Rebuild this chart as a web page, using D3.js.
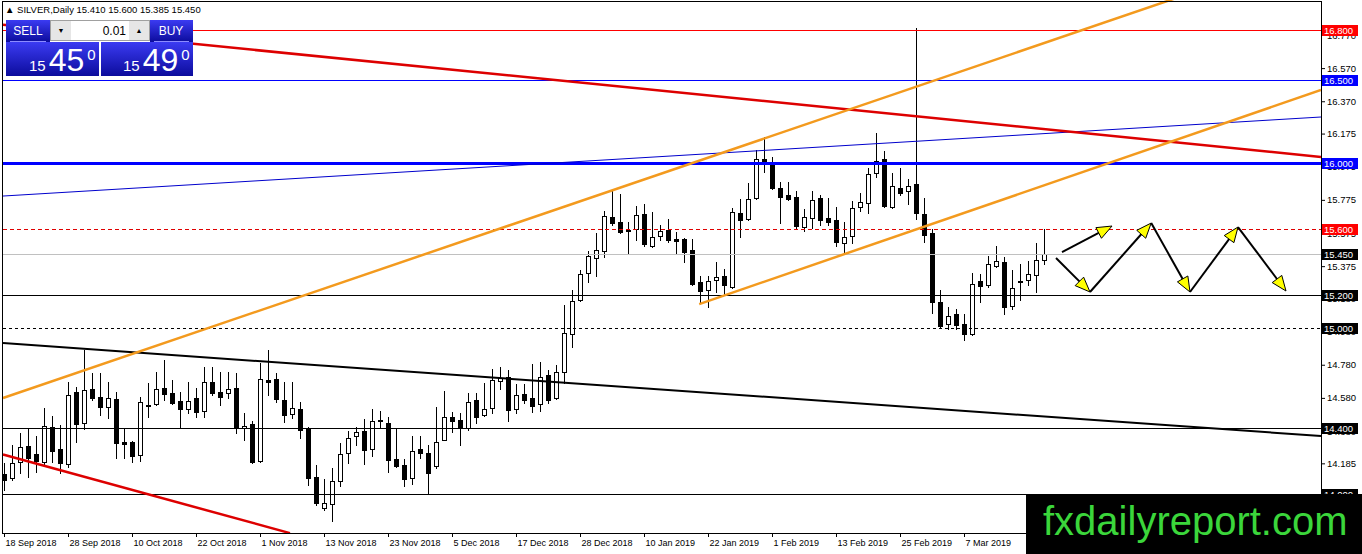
<!DOCTYPE html>
<html>
<head>
<meta charset="utf-8">
<script src="https://d3js.org/d3.v7.min.js"></script>
<style>
    body { margin: 0; background: #fff; }
    svg { display: block; font-family: "Liberation Sans", Arial, sans-serif; }
</style>
</head>
<body>
<svg id="chart" width="1362" height="554"></svg>
<script>
// daily silver candles, 18 Sep 2018 .. 25 Mar 2019 (weekdays only)
const opens = [
    14.121, 14.097, 14.193, 14.290, 14.241, 14.193, 14.404, 14.271, 14.181, 14.615,
    14.428, 14.633, 14.585, 14.525, 14.573, 14.314, 14.314, 14.235, 14.537, 14.543,
    14.639, 14.609, 14.561, 14.513, 14.579, 14.501, 14.676, 14.615, 14.609, 14.639,
    14.398, 14.422, 14.199, 14.688, 14.694, 14.567, 14.483, 14.513, 14.398, 14.103,
    13.915, 13.940, 14.078, 14.247, 14.350, 14.380, 14.271, 14.446, 14.428, 14.211,
    14.175, 14.097, 14.271, 14.247, 14.169, 14.326, 14.465, 14.446, 14.398, 14.567,
    14.477, 14.519, 14.682, 14.706, 14.513, 14.603, 14.579, 14.543, 14.718, 14.579,
    14.736, 14.966, 15.171, 15.333, 15.424, 15.466, 15.671, 15.641, 15.593, 15.599,
    15.690, 15.496, 15.557, 15.593, 15.539, 15.539, 15.472, 15.279, 15.231, 15.291,
    15.315, 15.249, 15.696, 15.659, 15.786, 16.021, 15.997, 15.846, 15.804, 15.792,
    15.611, 15.665, 15.786, 15.665, 15.653, 15.514, 15.557, 15.732, 15.756, 15.937,
    16.021, 15.732, 15.846, 15.828, 15.871, 15.690, 15.575, 15.158, 15.026, 15.086,
    15.026, 14.966, 15.285, 15.261, 15.376, 15.400, 15.134, 15.285, 15.291, 15.321,
    15.410
];
const highs = [
    14.187, 14.296, 14.368, 14.398, 14.350, 14.519, 14.471, 14.416, 14.676, 14.646,
    14.869, 14.730, 14.730, 14.676, 14.615, 14.398, 14.320, 14.585, 14.670, 14.736,
    14.808, 14.688, 14.615, 14.676, 14.639, 14.766, 14.766, 14.736, 14.736, 14.730,
    14.489, 14.440, 14.790, 14.869, 14.730, 14.676, 14.676, 14.555, 14.404, 14.175,
    14.090, 14.157, 14.308, 14.380, 14.404, 14.452, 14.513, 14.501, 14.465, 14.392,
    14.211, 14.350, 14.350, 14.296, 14.525, 14.621, 14.495, 14.489, 14.609, 14.609,
    14.670, 14.754, 14.766, 14.748, 14.664, 14.664, 14.784, 14.796, 14.748, 14.778,
    15.140, 15.231, 15.352, 15.466, 15.575, 15.708, 15.828, 15.810, 15.641, 15.738,
    15.750, 15.702, 15.623, 15.659, 15.581, 15.545, 15.539, 15.315, 15.315, 15.400,
    15.358, 15.726, 15.780, 15.877, 16.076, 16.154, 16.033, 15.883, 15.883, 15.828,
    15.720, 15.828, 15.804, 15.786, 15.732, 15.641, 15.768, 15.816, 15.967, 16.178,
    16.070, 15.937, 15.967, 15.901, 16.812, 15.786, 15.599, 15.231, 15.129, 15.116,
    15.086, 15.333, 15.327, 15.436, 15.496, 15.430, 15.352, 15.388, 15.406, 15.514,
    15.600
];
const lows = [
    14.024, 14.084, 14.127, 14.103, 14.133, 14.169, 14.193, 14.127, 14.163, 14.314,
    14.392, 14.567, 14.477, 14.458, 14.217, 14.217, 14.193, 14.199, 14.465, 14.537,
    14.567, 14.543, 14.398, 14.489, 14.465, 14.465, 14.597, 14.537, 14.579, 14.368,
    14.326, 14.187, 14.193, 14.597, 14.555, 14.434, 14.458, 14.338, 14.054, 13.933,
    13.903, 13.837, 14.048, 14.187, 14.296, 14.181, 14.229, 14.398, 14.133, 14.163,
    14.048, 14.060, 14.217, 14.000, 14.157, 14.326, 14.374, 14.296, 14.386, 14.428,
    14.470, 14.489, 14.633, 14.440, 14.489, 14.549, 14.495, 14.501, 14.549, 14.573,
    14.670, 14.887, 15.165, 15.279, 15.315, 15.430, 15.623, 15.575, 15.454, 15.533,
    15.496, 15.490, 15.533, 15.520, 15.448, 15.400, 15.261, 15.152, 15.129, 15.219,
    15.201, 15.243, 15.551, 15.653, 15.780, 15.943, 15.840, 15.635, 15.774, 15.599,
    15.587, 15.605, 15.623, 15.623, 15.496, 15.454, 15.514, 15.708, 15.696, 15.913,
    15.732, 15.726, 15.804, 15.750, 15.659, 15.520, 15.092, 15.008, 14.996, 14.996,
    14.929, 14.960, 15.158, 15.249, 15.370, 15.086, 15.116, 15.171, 15.261, 15.219,
    15.385
];
const closes = [
    14.084, 14.187, 14.284, 14.217, 14.199, 14.410, 14.259, 14.187, 14.597, 14.422,
    14.627, 14.579, 14.525, 14.579, 14.308, 14.302, 14.229, 14.555, 14.531, 14.633,
    14.603, 14.549, 14.513, 14.561, 14.495, 14.676, 14.609, 14.585, 14.633, 14.398,
    14.410, 14.193, 14.694, 14.676, 14.573, 14.477, 14.519, 14.386, 14.097, 13.946,
    13.946, 14.078, 14.241, 14.338, 14.374, 14.265, 14.440, 14.440, 14.205, 14.169,
    14.090, 14.259, 14.247, 14.127, 14.314, 14.465, 14.440, 14.398, 14.555, 14.465,
    14.513, 14.688, 14.700, 14.507, 14.597, 14.567, 14.531, 14.706, 14.567, 14.736,
    14.972, 15.165, 15.327, 15.436, 15.472, 15.677, 15.635, 15.581, 15.587, 15.684,
    15.508, 15.551, 15.587, 15.533, 15.527, 15.460, 15.267, 15.225, 15.285, 15.309,
    15.261, 15.702, 15.653, 15.780, 16.021, 16.003, 15.846, 15.792, 15.780, 15.617,
    15.671, 15.774, 15.653, 15.641, 15.520, 15.551, 15.726, 15.762, 15.931, 16.009,
    15.738, 15.858, 15.816, 15.858, 15.696, 15.563, 15.158, 15.014, 15.074, 15.020,
    14.966, 15.267, 15.255, 15.388, 15.406, 15.129, 15.243, 15.279, 15.327, 15.412,
    15.450
];

const dateTickIndex = [0, 8, 16, 24, 32, 40, 48, 56, 64, 72, 80, 88, 96, 104, 112, 120];
const dateLabels = ['18 Sep 2018', '28 Sep 2018', '10 Oct 2018', '22 Oct 2018', '1 Nov 2018',
    '13 Nov 2018', '23 Nov 2018', '5 Dec 2018', '17 Dec 2018', '28 Dec 2018', '10 Jan 2019',
    '22 Jan 2019', '1 Feb 2019', '13 Feb 2019', '25 Feb 2019', '7 Mar 2019'];
const priceTicks = [16.770, 16.570, 16.370, 16.175, 15.975, 15.775, 15.575, 15.375,
    15.180, 14.980, 14.780, 14.580, 14.380, 14.185, 13.985];

// horizontal levels drawn on the chart
const levels = [16.800, 16.500, 16.000, 15.600, 15.450, 15.200, 15.000, 14.400, 14.000];

// trend lines as [bar index, price] pairs
const redTopLine = [[-0.125, 16.832], [164.625, 16.034]];
const redLowLine = [[-0.125, 14.238], [35.75, 13.764]];
const blackLine = [[-0.125, 14.911], [164.625, 14.350]];
const blueLine = [[-0.125, 15.798], [164.625, 16.275]];
const orangeTopLine = [[-0.125, 14.579], [164.625, 17.291]];
const orangeLowLine = [[86.9, 15.146], [164.625, 16.438]];

// forecast arrows (bar index, price)
const arrowSingle = [[132.25, 15.460], [138.5, 15.617]];
const arrowZigzag = [[131.5, 15.424], [135.75, 15.219], [143.4, 15.635], [148.25, 15.219],
    [154.25, 15.611], [160.25, 15.225]];

const askPrice = 15.490;

(() => {
    'use strict';

    const plot = { left: 2.5, top: 1.5, right: 1321, bottom: 533 };
    const fmt = d3.format('.3f');
    const svg = d3.select('#chart');

    const x = d3.scaleLinear().domain([0, 164.625]).range([4, 1321]);
    const y = d3.scaleLinear().domain([14.0, 16.8]).range([494, 30]);

    const defs = svg.append('defs');
    defs.append('clipPath').attr('id', 'plotClip')
        .append('rect')
        .attr('x', plot.left)
        .attr('y', 0)
        .attr('width', plot.right - plot.left)
        .attr('height', plot.bottom);

    const grad = defs.append('linearGradient').attr('id', 'btnGrad')
        .attr('x1', 0).attr('y1', 0).attr('x2', 0).attr('y2', 1);
    grad.append('stop').attr('offset', '0%').attr('stop-color', '#3b3bf2');
    grad.append('stop').attr('offset', '100%').attr('stop-color', '#0c0c9c');

    const area = svg.append('g').attr('clip-path', 'url(#plotClip)');

    // candles
    const candles = opens.map((o, i) => ({ i: i, o: o, h: highs[i], l: lows[i], c: closes[i] }));
    const cg = area.append('g').attr('shape-rendering', 'crispEdges');

    cg.selectAll('line.wick')
        .data(candles)
        .enter()
        .append('line')
        .attr('class', 'wick')
        .attr('x1', d => Math.round(x(d.i)) + 0.5)
        .attr('x2', d => Math.round(x(d.i)) + 0.5)
        .attr('y1', d => Math.round(y(d.h)))
        .attr('y2', d => Math.round(y(d.l)) + 1)
        .attr('stroke', '#000')
        .attr('stroke-width', 1);

    cg.selectAll('rect.body')
        .data(candles)
        .enter()
        .append('rect')
        .attr('class', 'body')
        .each(function(d) {
            const cx = Math.round(x(d.i));
            const top = Math.round(y(Math.max(d.o, d.c)));
            const bot = Math.round(y(Math.min(d.o, d.c)));
            const el = d3.select(this);
            if (d.c < d.o) {
                el.attr('x', cx - 2).attr('y', top)
                  .attr('width', 5).attr('height', Math.max(1, bot - top + 1))
                  .attr('fill', '#000');
            } else {
                el.attr('x', cx - 1.5).attr('y', top + 0.5)
                  .attr('width', 4).attr('height', Math.max(0, bot - top))
                  .attr('fill', '#fff').attr('stroke', '#000').attr('stroke-width', 1);
            }
        });

    // horizontal levels
    const levelStyle = v => {
        if (v === 16.8) return { color: '#ff0000', w: 1, dash: null };
        if (v === 16.5) return { color: '#0000ff', w: 1, dash: null };
        if (v === 16.0) return { color: '#0000ff', w: 3, dash: null };
        if (v === 15.6) return { color: '#e00000', w: 1, dash: '4,3' };
        if (v === 15.45) return { color: '#c0c0c0', w: 1, dash: null };
        if (v === 15.0) return { color: '#000', w: 1, dash: '3,3' };
        return { color: '#000', w: 1, dash: null };
    };
    const labelFill = v => {
        if (v === 16.8 || v === 15.6) return '#ff0000';
        if (v === 16.5 || v === 16.0) return '#0000ff';
        return '#000';
    };

    area.append('g').attr('shape-rendering', 'crispEdges')
        .selectAll('line')
        .data(levels)
        .enter()
        .append('line')
        .attr('x1', plot.left)
        .attr('x2', plot.right)
        .attr('y1', d => Math.round(y(d)) + 0.5)
        .attr('y2', d => Math.round(y(d)) + 0.5)
        .attr('stroke', d => levelStyle(d).color)
        .attr('stroke-width', d => levelStyle(d).w)
        .attr('stroke-dasharray', d => levelStyle(d).dash);

    // trend lines
    const drawTrend = (pts, color, w) => {
        area.append('line')
            .attr('x1', x(pts[0][0])).attr('y1', y(pts[0][1]))
            .attr('x2', x(pts[1][0])).attr('y2', y(pts[1][1]))
            .attr('stroke', color)
            .attr('stroke-width', w);
    };
    drawTrend(blueLine, '#0000cc', 1);
    drawTrend(blackLine, '#000', 2);
    drawTrend(redLowLine, '#dd0000', 2.5);
    drawTrend(redTopLine, '#dd0000', 2.5);
    drawTrend(orangeTopLine, '#f39a1e', 2.5);
    drawTrend(orangeLowLine, '#f39a1e', 2.5);

    // arrows
    const drawArrow = (p0, p1) => {
        const x1 = x(p0[0]), y1 = y(p0[1]), x2 = x(p1[0]), y2 = y(p1[1]);
        const a = Math.atan2(y2 - y1, x2 - x1);
        const len = 15, half = 6;
        const bx = x2 - len * Math.cos(a), by = y2 - len * Math.sin(a);
        area.append('line')
            .attr('x1', x1).attr('y1', y1)
            .attr('x2', bx).attr('y2', by)
            .attr('stroke', '#000')
            .attr('stroke-width', 2);
        const tri = [
            [x2, y2],
            [bx + half * Math.sin(a), by - half * Math.cos(a)],
            [bx - half * Math.sin(a), by + half * Math.cos(a)]
        ];
        area.append('polygon')
            .attr('points', tri.map(p => p.join(',')).join(' '))
            .attr('fill', '#ffff00')
            .attr('stroke', '#000')
            .attr('stroke-width', 1);
    };
    drawArrow(arrowSingle[0], arrowSingle[1]);
    for (let k = 1; k < arrowZigzag.length; k++) {
        drawArrow(arrowZigzag[k - 1], arrowZigzag[k]);
    }

    // frame
    svg.append('rect')
        .attr('x', plot.left).attr('y', plot.top)
        .attr('width', plot.right - plot.left).attr('height', plot.bottom - plot.top)
        .attr('fill', 'none').attr('stroke', '#000').attr('stroke-width', 1)
        .attr('shape-rendering', 'crispEdges');

    // price axis
    const yAxis = d3.axisRight(y)
        .tickValues(priceTicks)
        .tickFormat(fmt)
        .tickSize(4)
        .tickPadding(2);
    const ya = svg.append('g')
        .attr('transform', 'translate(' + plot.right + ',0)')
        .call(yAxis);
    ya.select('.domain').remove();
    ya.attr('font-family', '"Liberation Sans", Arial, sans-serif').attr('font-size', 9.5);
    ya.selectAll('text').attr('fill', '#000');

    // level labels
    const lg = svg.append('g');
    levels.forEach(v => {
        const cy = Math.round(y(v)) + 0.5;
        lg.append('rect')
            .attr('x', plot.right + 1).attr('y', cy - 5.5)
            .attr('width', 36).attr('height', 11)
            .attr('fill', labelFill(v));
        lg.append('text')
            .attr('x', plot.right + 3).attr('y', cy + 3.5)
            .attr('font-size', 9.5)
            .attr('fill', '#fff')
            .text(fmt(v));
    });

    // date axis
    const xAxis = d3.axisBottom(x)
        .tickValues(dateTickIndex)
        .tickFormat((d, k) => dateLabels[k])
        .tickSize(4)
        .tickPadding(3);
    const xa = svg.append('g')
        .attr('transform', 'translate(0,' + plot.bottom + ')')
        .call(xAxis);
    xa.select('.domain').remove();
    xa.attr('font-family', '"Liberation Sans", Arial, sans-serif').attr('font-size', 9);
    xa.selectAll('text').attr('text-anchor', 'start').attr('dx', 1).attr('fill', '#000');

    // header
    const last = closes.length - 1;
    svg.append('text')
        .attr('x', 5).attr('y', 13)
        .attr('font-size', 9.5)
        .attr('fill', '#000')
        .text('\u25B2 SILVER,Daily  ' + [opens[last], highs[last], lows[last], closes[last]].map(fmt).join(' '));

    // one-click trading panel
    const panel = svg.append('g');
    const white = '#fff';
    panel.append('rect').attr('x', 6).attr('y', 20).attr('width', 44).attr('height', 22).attr('fill', 'url(#btnGrad)');
    panel.append('rect').attr('x', 150).attr('y', 20).attr('width', 43).attr('height', 22).attr('fill', 'url(#btnGrad)');
    panel.append('rect').attr('x', 6).attr('y', 42).attr('width', 93).attr('height', 34).attr('fill', 'url(#btnGrad)');
    panel.append('rect').attr('x', 101).attr('y', 42).attr('width', 92).attr('height', 34).attr('fill', 'url(#btnGrad)');
    panel.append('line').attr('x1', 10).attr('x2', 46).attr('y1', 41.5).attr('y2', 41.5).attr('stroke', '#8c8cff');
    panel.append('line').attr('x1', 154).attr('x2', 189).attr('y1', 41.5).attr('y2', 41.5).attr('stroke', '#8c8cff');
    panel.append('text').attr('x', 28).attr('y', 35).attr('text-anchor', 'middle')
        .attr('font-size', 12).attr('fill', white).text('SELL');
    panel.append('text').attr('x', 171).attr('y', 35).attr('text-anchor', 'middle')
        .attr('font-size', 12).attr('fill', white).text('BUY');

    // lot spinner
    panel.append('rect').attr('x', 50.5).attr('y', 20.5).attr('width', 99).attr('height', 20)
        .attr('fill', '#fff').attr('stroke', '#a0a0a0');
    panel.append('rect').attr('x', 51).attr('y', 21).attr('width', 20).attr('height', 19).attr('fill', '#e6e6e6');
    panel.append('rect').attr('x', 129).attr('y', 21).attr('width', 20).attr('height', 19).attr('fill', '#e6e6e6');
    panel.append('text').attr('x', 61).attr('y', 33).attr('text-anchor', 'middle')
        .attr('font-size', 7).attr('fill', '#000').text('\u25BC');
    panel.append('text').attr('x', 139).attr('y', 33).attr('text-anchor', 'middle')
        .attr('font-size', 7).attr('fill', '#000').text('\u25B2');
    panel.append('text').attr('x', 126).attr('y', 34.5).attr('text-anchor', 'end')
        .attr('font-size', 12).attr('fill', '#000').text('0.01');

    const bigPrice = (px, x0) => {
        const s = fmt(px);
        const t = panel.append('text').attr('y', 71).attr('fill', white);
        t.append('tspan').attr('x', x0).attr('font-size', 15).text(s.slice(0, 2));
        t.append('tspan').attr('dx', 3).attr('font-size', 32).text(s.slice(3, 5));
        t.append('tspan').attr('dx', 3).attr('dy', -11).attr('font-size', 15).text(s.slice(5));
    };
    bigPrice(closes[last], 29);
    bigPrice(askPrice, 123);

    // watermark
    svg.append('rect').attr('x', 1026).attr('y', 494).attr('width', 336).attr('height', 60).attr('fill', '#000');
    svg.append('text')
        .attr('x', 1043).attr('y', 535)
        .attr('font-size', 40)
        .attr('fill', '#3bd63b')
        .text('fxdailyreport.com');
})();
</script>
</body>
</html>
